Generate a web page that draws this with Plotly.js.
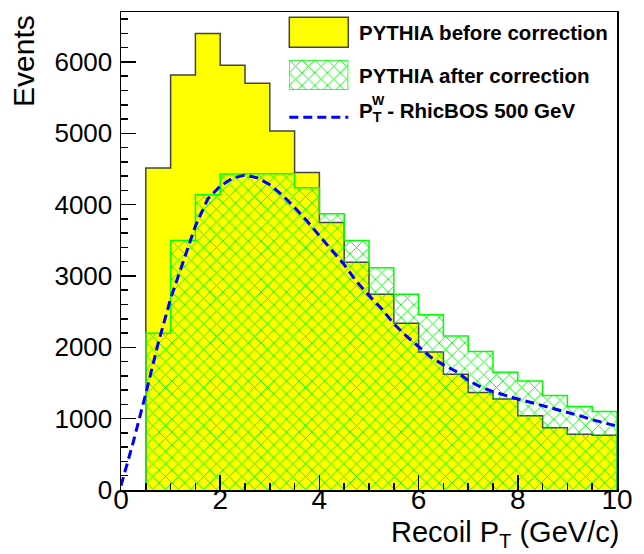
<!DOCTYPE html>
<html>
<head>
<meta charset="utf-8">
<script src="https://cdn.plot.ly/plotly-3.0.1.min.js"></script>
<style>html,body{margin:0;padding:0;background:#fff}#chart{width:644px;height:554px}</style>
</head>
<body>
<div id="chart"></div>
<script>
// Bin edges (GeV/c), 0.5 wide, first populated bin starts at 0.5
const binEdges = [0.5,1,1.5,2,2.5,3,3.5,4,4.5,5,5.5,6,6.5,7,7.5,8,8.5,9,9.5,10];
// PYTHIA before correction (events per bin)
const beforeCounts = [4513,5818,6397,5953,5700,5032,4451,3750,3194,2745,2339,1936,1623,1365,1277,1042,874,781,767];
// PYTHIA after correction (events per bin)
const afterCounts = [2198,3498,4139,4429,4433,4433,4237,3872,3498,3114,2745,2455,2160,1940,1651,1529,1323,1169,1099];
// RhicBOS 500 GeV P_T^W curve
const rbX = [0,0.25,0.5,0.75,1,1.25,1.5,1.75,2,2.25,2.5,2.75,3,3.25,3.5,3.75,4,4.25,4.5,4.75,5,5.25,5.5,5.75,6,6.25,6.5,6.75,7,7.25,7.5,7.75,8,8.25,8.5,8.75,9,9.25,9.5,9.75,10];
const rbY = [60,680,1350,2058,2680,3200,3700,4080,4260,4370,4415,4375,4280,4135,3960,3770,3560,3360,3160,2920,2725,2545,2330,2160,2010,1860,1754,1665,1535,1445,1380,1325,1275,1230,1185,1140,1085,1040,985,940,895];

const legendLabels = ["PYTHIA before correction","PYTHIA after correction","P<sub>T</sub> - RhicBOS 500 GeV"];
const xTitle = "Recoil P<sub>T</sub> (GeV/c)";
const yTitle = "Events";

function stepPath(edges, vals){
  const xs=[edges[0]], ys=[0];
  for(let i=0;i<vals.length;i++){ xs.push(edges[i]); ys.push(vals[i]); }
  xs.push(edges[edges.length-1]); ys.push(vals[vals.length-1]);
  xs.push(edges[edges.length-1]); ys.push(0);
  return {xs, ys};
}

const FONT = "Liberation Sans, Arial, Helvetica, sans-serif";
const hatch = {shape:'x', fgcolor:'#00ff00', bgcolor:'rgba(0,0,0,0)', size:9, solidity:0.2, fillmode:'replace'};

const b = stepPath(binEdges, beforeCounts);
const a = stepPath(binEdges, afterCounts);

const traces = [
  {x:b.xs, y:b.ys, type:'scatter', mode:'lines', line:{shape:'hv', color:'#444444', width:1.5},
   fill:'tozeroy', fillcolor:'#ffff00', showlegend:false, hoverinfo:'skip'},
  {x:a.xs, y:a.ys, type:'scatter', mode:'lines', line:{shape:'hv', color:'#00ff00', width:1.5},
   fill:'tozeroy', fillcolor:'rgba(0,0,0,0)', fillpattern:hatch, showlegend:false, hoverinfo:'skip'},
  {x:rbX, y:rbY, type:'scatter', mode:'lines', line:{color:'#0000ff', width:3, dash:'9px,5px'},
   showlegend:false, hoverinfo:'skip'},
  // invisible companion so the tick-label axis (x3) gets a subplot
  {x:rbX, y:rbY, xaxis:'x3', type:'scatter', mode:'lines', line:{width:0}, opacity:0,
   showlegend:false, hoverinfo:'skip'},
  // hatched legend swatch in its own tiny subplot
  {x:[0,1,1,0,0], y:[0,0,1,1,0], xaxis:'x2', yaxis:'y2', type:'scatter', mode:'lines',
   line:{color:'#00ff00', width:1.5}, fill:'toself', fillcolor:'rgba(0,0,0,0)', fillpattern:hatch,
   showlegend:false, hoverinfo:'skip'}
];

const L=121, R=617, T=12, B=490, W=R-L, H=B-T;
const px = v => (v-L)/W;
const py = v => (B-v)/H;

const layout = {
  width:644, height:554,
  margin:{l:L, r:644-R, t:T, b:554-B},
  paper_bgcolor:'#fff', plot_bgcolor:'#fff',
  font:{family:FONT, color:'#000'},
  showlegend:false,
  xaxis:{range:[0,10], dtick:2, tick0:0, ticks:'inside', ticklen:15, tickwidth:1.5, tickcolor:'#000',
    showline:true, mirror:true, linecolor:'#000', linewidth:1.5, showgrid:false, zeroline:false,
    showticklabels:false,
    minor:{dtick:0.5, ticks:'inside', ticklen:7, tickwidth:1.5, tickcolor:'#000', showgrid:false}},
  xaxis3:{range:[0,10], dtick:2, tick0:0, overlaying:'x', anchor:'free', position:10/478, side:'bottom',
    ticks:'', showline:false, showgrid:false, zeroline:false,
    tickfont:{size:28, family:FONT}},
  yaxis:{range:[0,6700], dtick:1000, tick0:0, ticks:'inside', ticklen:15, tickwidth:1.5, tickcolor:'#000',
    showline:true, mirror:true, linecolor:'#000', linewidth:1.5, showgrid:false, zeroline:false,
    tickfont:{size:26, family:FONT}, ticklabelstandoff:2,
    minor:{dtick:200, ticks:'inside', ticklen:7, tickwidth:1.5, tickcolor:'#000', showgrid:false}},
  xaxis2:{domain:[px(289.3), px(348.3)], range:[0,1], anchor:'y2', visible:false, fixedrange:true},
  yaxis2:{domain:[py(90), py(60)], range:[0,1], anchor:'x2', visible:false, fixedrange:true},
  shapes:[
    {type:'rect', xref:'paper', yref:'paper', x0:px(289.3), x1:px(348.3), y0:py(47.3), y1:py(17.3),
     fillcolor:'#ffff00', line:{color:'#444444', width:1.5}},
    {type:'line', xref:'paper', yref:'paper', x0:px(289.3), x1:px(348.3), y0:py(117.3), y1:py(117.3),
     line:{color:'#0000ff', width:3, dash:'9px,5px'}}
  ],
  annotations:[
    {text:'<b>'+legendLabels[0]+'</b>', xref:'paper', yref:'paper', x:px(357), y:py(32), xanchor:'left', yanchor:'middle', showarrow:false, font:{size:20.5, family:FONT}},
    {text:'<b>'+legendLabels[1]+'</b>', xref:'paper', yref:'paper', x:px(357), y:py(75), xanchor:'left', yanchor:'middle', showarrow:false, font:{size:20.5, family:FONT}},
    {text:'<b>'+legendLabels[2]+'</b>', xref:'paper', yref:'paper', x:px(357), y:py(112), xanchor:'left', yanchor:'middle', showarrow:false, font:{size:20.5, family:FONT}},
    {text:'<b>W</b>', xref:'paper', yref:'paper', x:px(370), y:py(100), xanchor:'left', yanchor:'middle', showarrow:false, font:{size:13, family:FONT}},
    {text:xTitle, xref:'paper', yref:'paper', x:px(621), y:py(534), xanchor:'right', yanchor:'middle', showarrow:false, font:{size:29, family:FONT}},
    {text:yTitle, xref:'paper', yref:'paper', x:px(24), y:py(13), xanchor:'center', yanchor:'top', textangle:-90, showarrow:false, font:{size:30, family:FONT}}
  ]
};

Plotly.newPlot('chart', traces, layout, {displayModeBar:false, staticPlot:true});
</script>
</body>
</html>
